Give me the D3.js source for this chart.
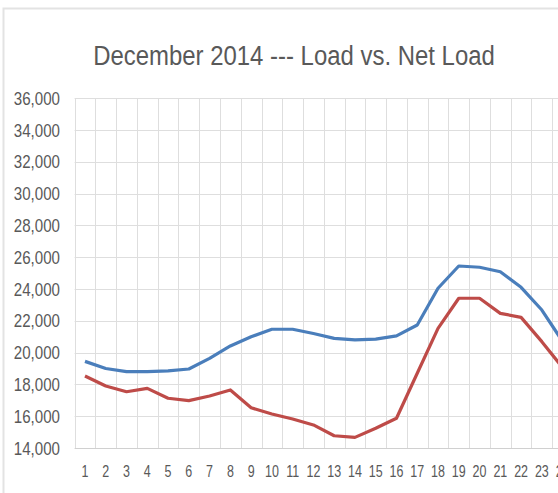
<!DOCTYPE html>
<html>
<head>
<meta charset="utf-8">
<script src="https://cdn.jsdelivr.net/npm/d3@7"></script>
<style>
body { margin: 0; background: #fff; }
svg { display: block; }
</style>
</head>
<body>
<div></div>
<script>
var hours = d3.range(1, 25);
var load = [19450, 19000, 18800, 18800, 18850, 18970, 19640, 20420, 21000, 21470, 21470, 21200,
            20900, 20800, 20850, 21050, 21740, 24050, 25450, 25370, 25090, 24110, 22680, 20700];
var netLoad = [18530, 17900, 17540, 17750, 17130, 16980, 17270, 17650, 16530, 16140, 15820, 15450,
               14770, 14670, 15240, 15870, 18700, 21530, 23420, 23420, 22470, 22220, 20690, 19050];
var yTicks = d3.range(14000, 36001, 2000);

function init() {
var w = 558, h = 493;
var left = 74.6, right = 573, top = 98.3, bottom = 448;
var squeeze = 0.84;

var svg = d3.select("div").append("svg")
    .attr("width", w)
    .attr("height", h);

// chart area border
svg.append("path")
    .attr("d", "M3.5,493 V8.5 H600")
    .attr("fill", "none")
    .attr("stroke", "#e3e3e3")
    .attr("stroke-width", 2);

var x = d3.scaleBand().domain(hours).range([left, right]);
var y = d3.scaleLinear().domain([14000, 36000]).range([bottom, top]);

// horizontal grid
svg.selectAll("line.hgrid")
    .data(yTicks)
    .enter()
    .append("line")
    .attr("class", "hgrid")
    .attr("x1", left)
    .attr("x2", right)
    .attr("y1", function(d) { return Math.round(y(d)) + 0.5; })
    .attr("y2", function(d) { return Math.round(y(d)) + 0.5; })
    .attr("stroke", function(d) { return d === 14000 ? "#d0d0d0" : "#dedede"; })
    .attr("stroke-width", 1);

// vertical grid
svg.selectAll("line.vgrid")
    .data(d3.range(0, 25))
    .enter()
    .append("line")
    .attr("class", "vgrid")
    .attr("x1", function(i) { return Math.round(left + i * x.step()) + 0.5; })
    .attr("x2", function(i) { return Math.round(left + i * x.step()) + 0.5; })
    .attr("y1", y(36000))
    .attr("y2", y(14000))
    .attr("stroke", "#dedede")
    .attr("stroke-width", 1);

// y labels
svg.selectAll("text.ylab")
    .data(yTicks)
    .enter()
    .append("text")
    .attr("class", "ylab")
    .attr("transform", function(d) {
        return "translate(60," + (y(d) + 6.5) + ") scale(" + squeeze + ",1)";
    })
    .attr("text-anchor", "end")
    .attr("font-family", "Liberation Sans, Arial, sans-serif")
    .attr("font-size", 18)
    .attr("fill", "#595959")
    .text(d3.format(","));

// x labels
svg.selectAll("text.xlab")
    .data(hours)
    .enter()
    .append("text")
    .attr("class", "xlab")
    .attr("transform", function(d) {
        return "translate(" + (x(d) + x.bandwidth() / 2) + ",477) scale(0.78,1)";
    })
    .attr("text-anchor", "middle")
    .attr("font-family", "Liberation Sans, Arial, sans-serif")
    .attr("font-size", 16)
    .attr("fill", "#595959")
    .text(function(d) { return d; });

var line = d3.line()
    .x(function(d, i) { return x(hours[i]) + x.bandwidth() / 2; })
    .y(function(d) { return y(d); });

svg.append("path")
    .datum(load)
    .attr("d", line)
    .attr("fill", "none")
    .attr("stroke", "#4a7ebb")
    .attr("stroke-width", 3.2)
    .attr("stroke-linejoin", "round");

svg.append("path")
    .datum(netLoad)
    .attr("d", line)
    .attr("fill", "none")
    .attr("stroke", "#be4b48")
    .attr("stroke-width", 3.2)
    .attr("stroke-linejoin", "round");

// title
svg.append("text")
    .attr("transform", "translate(294,65) scale(0.855,1)")
    .attr("text-anchor", "middle")
    .attr("font-family", "Liberation Sans, Arial, sans-serif")
    .attr("font-size", 28)
    .attr("fill", "#595959")
    .text("December 2014 --- Load vs. Net Load");
}

window.onload = init;
</script>
</body>
</html>
